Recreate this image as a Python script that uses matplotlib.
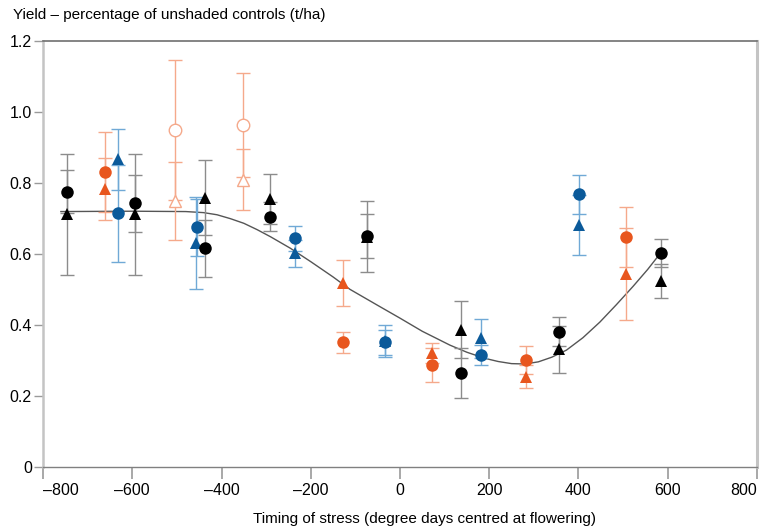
import matplotlib.pyplot as plt

plt.rcParams['font.family'] = ['Liberation Sans', 'DejaVu Sans']

ORANGE = "#e8561e"
ORANGE_LT = "#f5a98b"
BLUE = "#0b5a9a"
BLUE_LT = "#70a9d6"
BLACK = "#000000"
BLACK_LT = "#8c8c8c"

# filled orange
or_c_x = [-660, -127, 72, 282, 506]
or_c_y = [0.831, 0.351, 0.287, 0.301, 0.648]
or_c_e = [0.113, 0.030, 0.047, 0.040, 0.085]
or_t_x = [-660, -127, 72, 282, 506]
or_t_y = [0.783, 0.517, 0.322, 0.254, 0.543]
or_t_e = [0.088, 0.065, 0.028, 0.032, 0.130]

# open orange
oo_c_x = [-504, -351]
oo_c_y = [0.949, 0.963]
oo_c_e = [0.198, 0.147]
oo_t_x = [-504, -351]
oo_t_y = [0.749, 0.808]
oo_t_e = [0.110, 0.086]

# blue
bl_c_x = [-631, -454, -235, -34, 181, 401]
bl_c_y = [0.714, 0.675, 0.644, 0.351, 0.315, 0.768]
bl_c_e = [0.136, 0.080, 0.035, 0.035, 0.028, 0.055]
bl_t_x = [-631, -458, -235, -34, 181, 401]
bl_t_y = [0.866, 0.631, 0.602, 0.356, 0.362, 0.681]
bl_t_e = [0.085, 0.130, 0.038, 0.045, 0.054, 0.084]

# black
bk_c_x = [-747, -594, -437, -291, -73, 136, 356, 586]
bk_c_y = [0.775, 0.742, 0.616, 0.705, 0.650, 0.264, 0.381, 0.603]
bk_c_e = [0.060, 0.080, 0.080, 0.040, 0.062, 0.070, 0.040, 0.040]
bk_t_x = [-747, -594, -437, -291, -73, 136, 356, 586]
bk_t_y = [0.711, 0.711, 0.758, 0.754, 0.648, 0.386, 0.331, 0.524]
bk_t_e = [0.170, 0.170, 0.105, 0.070, 0.100, 0.080, 0.065, 0.047]

# fitted curve
fit_x = [-760, -600, -480, -440, -410, -380, -350, -320, -290, -246, -200, -150,
         -112, -50, 0, 50, 112, 150, 190, 220, 250, 280, 310, 340, 373, 410,
         448, 485, 522, 555, 575, 588]
fit_y = [0.719, 0.720, 0.719, 0.716, 0.710, 0.699, 0.686, 0.668, 0.648, 0.616,
         0.578, 0.535, 0.500, 0.455, 0.419, 0.382, 0.343, 0.323, 0.306, 0.297,
         0.291, 0.290, 0.296, 0.309, 0.329, 0.364, 0.408, 0.457, 0.508, 0.556,
         0.588, 0.606]

xticks = [-800, -600, -400, -200, 0, 200, 400, 600, 800]
xtick_labels = ["\u2013800", "\u2013600", "\u2013400", "\u2013200", "0", "200", "400", "600", "800"]
yticks = [0, 0.2, 0.4, 0.6, 0.8, 1.0, 1.2]
ytick_labels = ["0", "0.2", "0.4", "0.6", "0.8", "1.0", "1.2"]

fig = plt.figure(figsize=(7.64, 5.31), dpi=100)
ax = fig.add_axes([0.0563, 0.1205, 0.9345, 0.8029])

ax.plot(fit_x, fit_y, color="#555555", lw=1.0, zorder=2)

eb = dict(fmt="none", elinewidth=1.0, capsize=5, capthick=1.0, zorder=3)
ax.errorbar(bk_t_x, bk_t_y, yerr=bk_t_e, ecolor=BLACK_LT, **eb)
ax.errorbar(bk_c_x, bk_c_y, yerr=bk_c_e, ecolor=BLACK_LT, **eb)
ax.errorbar(or_t_x, or_t_y, yerr=or_t_e, ecolor=ORANGE_LT, **eb)
ax.errorbar(or_c_x, or_c_y, yerr=or_c_e, ecolor=ORANGE_LT, **eb)
ax.errorbar(oo_t_x, oo_t_y, yerr=oo_t_e, ecolor=ORANGE_LT, **eb)
ax.errorbar(oo_c_x, oo_c_y, yerr=oo_c_e, ecolor=ORANGE_LT, **eb)
ax.errorbar(bl_t_x, bl_t_y, yerr=bl_t_e, ecolor=BLUE_LT, **eb)
ax.errorbar(bl_c_x, bl_c_y, yerr=bl_c_e, ecolor=BLUE_LT, **eb)

ms = 9
ax.plot(bk_t_x, bk_t_y, "^", color=BLACK, ms=ms, mew=0, ls="none", zorder=4)
ax.plot(bk_c_x, bk_c_y, "o", color=BLACK, ms=ms, mew=0, ls="none", zorder=5)
ax.plot(or_t_x, or_t_y, "^", color=ORANGE, ms=ms, mew=0, ls="none", zorder=4)
ax.plot(or_c_x, or_c_y, "o", color=ORANGE, ms=ms, mew=0, ls="none", zorder=5)
ax.plot(oo_t_x, oo_t_y, "^", mfc="white", mec=ORANGE_LT, ms=ms, mew=1.0, ls="none", zorder=4)
ax.plot(oo_c_x, oo_c_y, "o", mfc="white", mec=ORANGE_LT, ms=ms, mew=1.0, ls="none", zorder=5)
ax.plot(bl_t_x, bl_t_y, "^", color=BLUE, ms=ms, mew=0, ls="none", zorder=4)
ax.plot(bl_c_x, bl_c_y, "o", color=BLUE, ms=ms, mew=0, ls="none", zorder=5)

ax.set_xlim(-800, 800)
ax.set_ylim(0, 1.2)
ax.set_xticks(xticks)
ax.set_xticklabels(xtick_labels, fontsize=11.5)
ax.set_yticks(yticks)
ax.set_yticklabels(ytick_labels, fontsize=11.5)
labs = ax.get_xticklabels()
labs[0].set_ha("left")
labs[-1].set_ha("right")

ax.tick_params(axis="x", direction="out", length=8.5, width=1.2, color="#9a9a9a", pad=3)
ax.tick_params(axis="y", direction="out", length=6.5, width=1.0, color="#9a9a9a", pad=1.5)

ax.spines["top"].set_color("#707070")
ax.spines["top"].set_linewidth(1.2)
ax.spines["bottom"].set_color("#808080")
ax.spines["bottom"].set_linewidth(1.0)
ax.spines["left"].set_color("#c4c4c4")
ax.spines["left"].set_linewidth(1.8)
ax.spines["right"].set_color("#c4c4c4")
ax.spines["right"].set_linewidth(2.2)

ax.set_xlabel("Timing of stress (degree days centred at flowering)", fontsize=11, labelpad=10)
ax.xaxis.label.set_x(0.534)
fig.text(0.017, 0.972, "Yield \u2013 percentage of unshaded controls (t/ha)", fontsize=11,
         ha="left", va="center")

fig.savefig("out.png", dpi=100)
